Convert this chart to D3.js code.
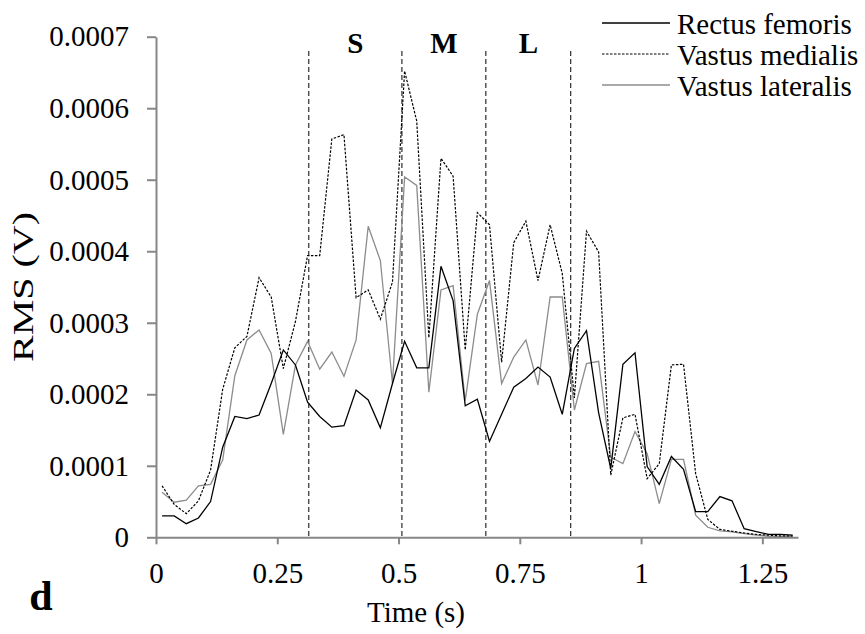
<!DOCTYPE html>
<html>
<head>
<meta charset="UTF-8">
<title>RMS vs Time</title>
<script src="https://d3js.org/d3.v7.min.js"></script>
<style>
  body { margin: 0; background: #fff; }
  svg text { font-family: "Liberation Serif", "Times New Roman", serif; fill: #000; }
</style>
</head>
<body>
<div id="chart"></div>
<script>
// sample times (s)
const times = [0.0125, 0.0375, 0.0625, 0.0875, 0.1125, 0.1375, 0.1625, 0.1875, 0.2125, 0.2375,
  0.2625, 0.2875, 0.3125, 0.3375, 0.3625, 0.3875, 0.4125, 0.4375, 0.4625, 0.4875,
  0.5125, 0.5375, 0.5625, 0.5875, 0.6125, 0.6375, 0.6625, 0.6875, 0.7125, 0.7375,
  0.7625, 0.7875, 0.8125, 0.8375, 0.8625, 0.8875, 0.9125, 0.9375, 0.9625, 0.9875,
  1.0125, 1.0375, 1.0625, 1.0875, 1.1125, 1.1375, 1.1625, 1.1875, 1.2125, 1.2375,
  1.2625, 1.2875, 1.3125];

// RMS values in units of 1e-4 V
const rectusFemoris = [0.30, 0.30, 0.19, 0.27, 0.50, 1.26, 1.69, 1.66, 1.71, 2.15,
  2.62, 2.41, 1.89, 1.69, 1.54, 1.56, 2.06, 1.92, 1.53, 2.15,
  2.74, 2.37, 2.37, 3.79, 3.31, 1.84, 1.93, 1.34, 1.72, 2.10,
  2.22, 2.38, 2.24, 1.72, 2.64, 2.89, 1.74, 0.96, 2.42, 2.58,
  0.99, 0.74, 1.13, 0.95, 0.36, 0.36, 0.57, 0.51, 0.12, 0.08,
  0.04, 0.04, 0.03];

const vastusMedialis = [0.72, 0.46, 0.33, 0.51, 0.94, 2.07, 2.65, 2.81, 3.63, 3.36,
  2.36, 3.02, 3.94, 3.94, 5.57, 5.63, 3.35, 3.46, 3.05, 3.57,
  6.52, 5.82, 2.79, 5.30, 5.05, 2.62, 4.54, 4.37, 2.45, 4.12,
  4.42, 3.59, 4.37, 3.69, 1.95, 4.28, 3.99, 0.87, 1.67, 1.72,
  0.82, 1.03, 2.41, 2.42, 0.89, 0.25, 0.11, 0.085, 0.06, 0.04,
  0.03, 0.02, 0.02];

const vastusLateralis = [0.63, 0.49, 0.52, 0.72, 0.74, 1.08, 2.26, 2.76, 2.90, 2.57,
  1.44, 2.41, 2.74, 2.35, 2.59, 2.25, 2.76, 4.35, 3.87, 2.15,
  5.04, 4.92, 2.03, 3.46, 3.52, 1.91, 3.12, 3.59, 2.15, 2.52,
  2.76, 2.13, 3.36, 3.36, 1.78, 2.43, 2.46, 1.12, 1.03, 1.48,
  1.17, 0.47, 1.09, 1.09, 0.31, 0.14, 0.09, 0.076, 0.05, 0.03,
  0.014, 0.01, 0.01];

const seriesNames = ["Rectus femoris", "Vastus medialis", "Vastus lateralis"];
const phaseBounds = [0.315, 0.507, 0.68, 0.855];
const phaseLabels = ["S", "M", "L"];
const xTicks = [0, 0.25, 0.5, 0.75, 1, 1.25];
const yTicks = [0, 0.0001, 0.0002, 0.0003, 0.0004, 0.0005, 0.0006, 0.0007];

const W = 865, H = 634;
const plotL = 156, plotR = 798, plotT = 36.7, plotB = 537.3;
const axisColor = "#878787";
const fontSize = "29px";

const svg = d3.select("#chart").append("svg")
  .attr("width", W).attr("height", H);

const x = d3.scaleLinear().domain([0, 1.3235]).range([plotL, plotR]);
const y = d3.scaleLinear().domain([0, 0.0007]).range([plotB, plotT]);

// axes
const gx = svg.append("g")
  .attr("transform", `translate(0,${plotB})`)
  .call(d3.axisBottom(x).tickValues(xTicks).tickSizeInner(7).tickSizeOuter(0)
    .tickPadding(18).tickFormat(d => String(d)));
const gy = svg.append("g")
  .attr("transform", `translate(${plotL},0)`)
  .call(d3.axisLeft(y).tickValues(yTicks).tickSizeInner(9).tickSizeOuter(0)
    .tickPadding(18).tickFormat(d => d === 0 ? "0" : d.toFixed(4)));
[gx, gy].forEach(g => {
  g.selectAll("path, line").attr("stroke", axisColor).attr("stroke-width", 2);
  g.selectAll("text").style("font-size", fontSize)
    .style("font-family", '"Liberation Serif", "Times New Roman", serif').attr("fill", "#000");
});

// phase boundaries
svg.selectAll(".bound").data(phaseBounds).enter().append("line")
  .attr("x1", d => x(d)).attr("x2", d => x(d))
  .attr("y1", y(0.00068)).attr("y2", plotB)
  .attr("stroke", "#000").attr("stroke-width", 1).attr("stroke-dasharray", "5,3");

svg.selectAll(".phase").data(phaseLabels).enter().append("text")
  .attr("x", (d, i) => x((phaseBounds[i] + phaseBounds[i + 1]) / 2))
  .attr("y", 53)
  .attr("text-anchor", "middle")
  .style("font-size", fontSize).style("font-weight", "bold")
  .text(d => d);

// series
const series = [
  {name: seriesNames[0], values: rectusFemoris, color: "#000", width: 1.3, dash: null},
  {name: seriesNames[1], values: vastusMedialis, color: "#000", width: 1.2, dash: "2.5,1.5"},
  {name: seriesNames[2], values: vastusLateralis, color: "#8c8c8c", width: 1.3, dash: null}
];

const line = d3.line().x((d, i) => x(times[i])).y(d => y(d * 1e-4));

svg.selectAll(".series").data(series.slice().reverse()).enter().append("path")
  .attr("d", d => line(d.values))
  .attr("fill", "none")
  .attr("stroke", d => d.color)
  .attr("stroke-width", d => d.width)
  .attr("stroke-dasharray", d => d.dash)
  .attr("stroke-linejoin", "miter");

// legend
const leg = svg.append("g");
series.forEach((s, i) => {
  const by = 34 + i * 31;
  leg.append("line")
    .attr("x1", 602).attr("x2", 670).attr("y1", by - 11).attr("y2", by - 11)
    .attr("stroke", s.color).attr("stroke-width", s.width)
    .attr("stroke-dasharray", s.dash);
  leg.append("text").attr("x", 677).attr("y", by)
    .style("font-size", fontSize).text(s.name);
});

// axis titles
svg.append("text")
  .attr("transform", `translate(33,${(plotT + plotB) / 2}) rotate(-90)`)
  .attr("text-anchor", "middle")
  .attr("textLength", 150)
  .attr("lengthAdjust", "spacingAndGlyphs")
  .style("font-size", fontSize)
  .text("RMS (V)");

svg.append("text")
  .attr("x", 367).attr("y", 622)
  .style("font-size", fontSize)
  .text("Time (s)");

svg.append("text")
  .attr("x", 41).attr("y", 610)
  .attr("text-anchor", "middle")
  .style("font-size", "42px").style("font-weight", "bold")
  .text("d");
</script>
</body>
</html>
